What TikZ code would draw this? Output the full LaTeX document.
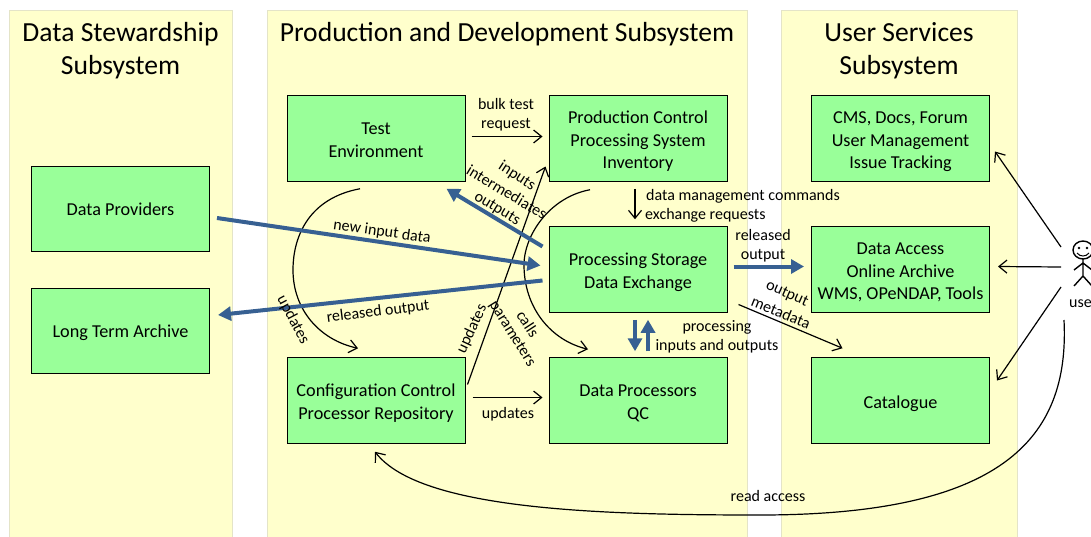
\documentclass[tikz,border=0pt]{standalone}
\usepackage{fontspec}
\setmainfont{Carlito}
\usetikzlibrary{arrows.meta,calc}
\definecolor{panelfill}{HTML}{FFFFCC}
\definecolor{panelline}{HTML}{E4E4C8}
\definecolor{boxfill}{HTML}{99FF99}
\definecolor{flowblue}{HTML}{376092}
\newcommand{\lowerbox}{\rule{0pt}{19pt}}
\tikzset{
  x=1pt,y=-1pt,
  panel/.style={draw=panelline,fill=panelfill,line width=0.8pt},
  boxnode/.style={draw=black,fill=boxfill,line width=1pt,minimum width=178pt,minimum height=85.5pt,inner sep=0pt,align=center,font=\fontsize{18.2}{22.5}\selectfont,execute at begin node={\rule{0pt}{16pt}},execute at end node={\rule[-4pt]{0pt}{4pt}}},
  titlenode/.style={align=center,inner sep=0pt,font=\fontsize{27.6}{33}\selectfont},
  lab/.style={align=center,inner sep=0pt,font=\fontsize{16}{19}\selectfont},
  thin arrow/.style={draw=black,line width=1.2pt,-{Straight Barb[length=8pt,width=13pt,line width=1.2pt]}},
  blue arrow/.style={draw=flowblue,line width=4pt,-{Triangle[length=13pt,width=14pt]}}
}
\begin{document}
\begin{tikzpicture}
\useasboundingbox (0,0) rectangle (1091,536);
\clip (0,0) rectangle (1091,536);
% panels
\path[panel] (9,10) rectangle (232,540);
\path[panel] (267,10) rectangle (747,540);
\path[panel] (781,10) rectangle (1017,540);
\node[titlenode] (t1) at (120.5,50.8) {Data Stewardship\\Subsystem};
\node[titlenode] (t2) at (507,33.8) {Production and Development Subsystem};
\node[titlenode] (t3) at (899,50.8) {User Services\\Subsystem};
% boxes
\node[boxnode] (dp) at (120.5,209) {Data Providers};
\node[boxnode] (lta) at (120.5,331) {Long Term Archive};
\node[boxnode] (test) at (376,138.5) {\lowerbox Test\\Environment};
\node[boxnode] (pc) at (638,138.5) {\lowerbox Production Control\\Processing System\\Inventory};
\node[boxnode] (ps) at (638,269.5) {\lowerbox Processing Storage\\Data Exchange};
\node[boxnode] (cc) at (376,400.5) {\lowerbox Configuration Control\\Processor Repository};
\node[boxnode] (qc) at (638,400.5) {\lowerbox Data Processors\\QC};
\node[boxnode] (cms) at (900.5,138.5) {\lowerbox CMS, Docs, Forum\\User Management\\Issue Tracking};
\node[boxnode] (da) at (900.5,269.5) {\lowerbox Data Access\\Online Archive\\WMS, OPeNDAP, Tools};
\node[boxnode] (cat) at (900.5,400.5) {\lowerbox Catalogue};
% user figure
\node[inner sep=0pt,minimum size=1pt] (user) at (1083,265) {};
\draw[line width=1.4pt,fill=white] (1083,250) ellipse (10pt and 9pt);
\fill (1079,248) circle (1.3pt) (1087,248) circle (1.3pt);
\draw[line width=1pt] (1077,253) .. controls (1080,257) and (1086,257) .. (1089,253);
\draw[line width=1.4pt] (1083,259) -- (1083,276) -- (1074,286) (1083,276) -- (1092,286)
  (1074,270) -- (1083,263) -- (1092,270);
\node[lab,anchor=west] (ulab) at (1069,303.5) {user};
% thin connectors
\draw[thin arrow] ([shift={(-16,7)}]test.south) .. controls (310,198) and (293,235) .. (293,270) .. controls (293,310) and (320,340) .. ([shift={(-18,-9)}]cc.north);
\draw[thin arrow] ([shift={(6,-2)}]test.east) -- ([shift={(-6,-2)}]pc.west);
\draw[thin arrow] ([shift={(2,-16)}]cc.east) -- ([shift={(-3,28)}]pc.west);
\draw[thin arrow] ([shift={(7,-3)}]cc.east) -- ([shift={(-6,-3)}]qc.west);
\draw[thin arrow] ([shift={(-48,8)}]pc.south) .. controls (550,197) and (524,235) .. (524,265) .. controls (524,307) and (550,340) .. ([shift={(-50,-8)}]qc.north);
\draw[thin arrow] ([shift={(-3,7)}]pc.south) -- ([shift={(-3,-7)}]ps.north);
\draw[thin arrow] ([shift={(11,35)}]ps.east) -- ([shift={(-58,-9)}]cat.north);
\draw[thin arrow] ([shift={(-22,-18)}]user.center) -- ([shift={(5,13)}]cms.east);
\draw[thin arrow] ([shift={(-22,2)}]user.center) -- ([shift={(8,-3)}]da.east);
\draw[thin arrow] ([shift={(-22,22)}]user.center) -- ([shift={(7,-20)}]cat.east);
\draw[thin arrow] ([shift={(-5,16.5)}]ulab.west) .. controls (1070,440) and (1000,515) .. (760,515) .. controls (600,515) and (420,510) .. ([shift={(-1,8)}]cc.south);
% blue flows
\draw[blue arrow] ([shift={(7,9)}]dp.east) -- ([shift={(-8,-4)}]ps.west);
\draw[blue arrow] ([shift={(-6,11)}]ps.west) -- ([shift={(8,-16)}]lta.east);
\draw[blue arrow] ([shift={(-6,-23)}]ps.west) -- ([shift={(-19,7)}]test.south east);
\draw[blue arrow] ([shift={(6,-3)}]ps.east) -- ([shift={(-7,-3)}]da.west);
\draw[blue arrow] ([shift={(-3,7)}]ps.south) -- ([shift={(-3,-6)}]qc.north);
\draw[blue arrow] ([shift={(10,-6)}]qc.north) -- ([shift={(10,7)}]ps.south);
% labels
\node[lab] (l1) at (506,115) {bulk test\\request};
\node[lab,rotate=-33] (l2) at (517,176) {inputs};
\node[lab,rotate=-31] (l3) at (507,192) {intermediates};
\node[lab,rotate=-31] (l4) at (497,209) {outputs};
\node[lab,rotate=-8] (l5) at (382,232) {new input data};
\node[lab,rotate=7] (l6) at (378,312) {released output};
\node[lab,rotate=-62] (l7) at (293,320) {updates};
\node[lab,rotate=65] (l8) at (472,329) {updates};
\node[lab,rotate=-58] (l9) at (512,334) {parameters};
\node[lab,rotate=-57] (l10) at (528,324) {calls};
\node[lab] (l11) at (508,414) {updates};
\node[lab,align=left,anchor=west] (l12) at (645,206) {\hspace*{1pt}data management commands\\exchange requests};
\node[lab] (l13) at (763,245.5) {released\\output};
\node[lab,rotate=-24] (l14) at (787,294) {output};
\node[lab,rotate=-22] (l15) at (781,312.5) {metadata};
\node[lab] (l16) at (717,336.5) {processing\\inputs and outputs};
\node[lab] (l17) at (768,496) {read access};
\end{tikzpicture}
\end{document}
